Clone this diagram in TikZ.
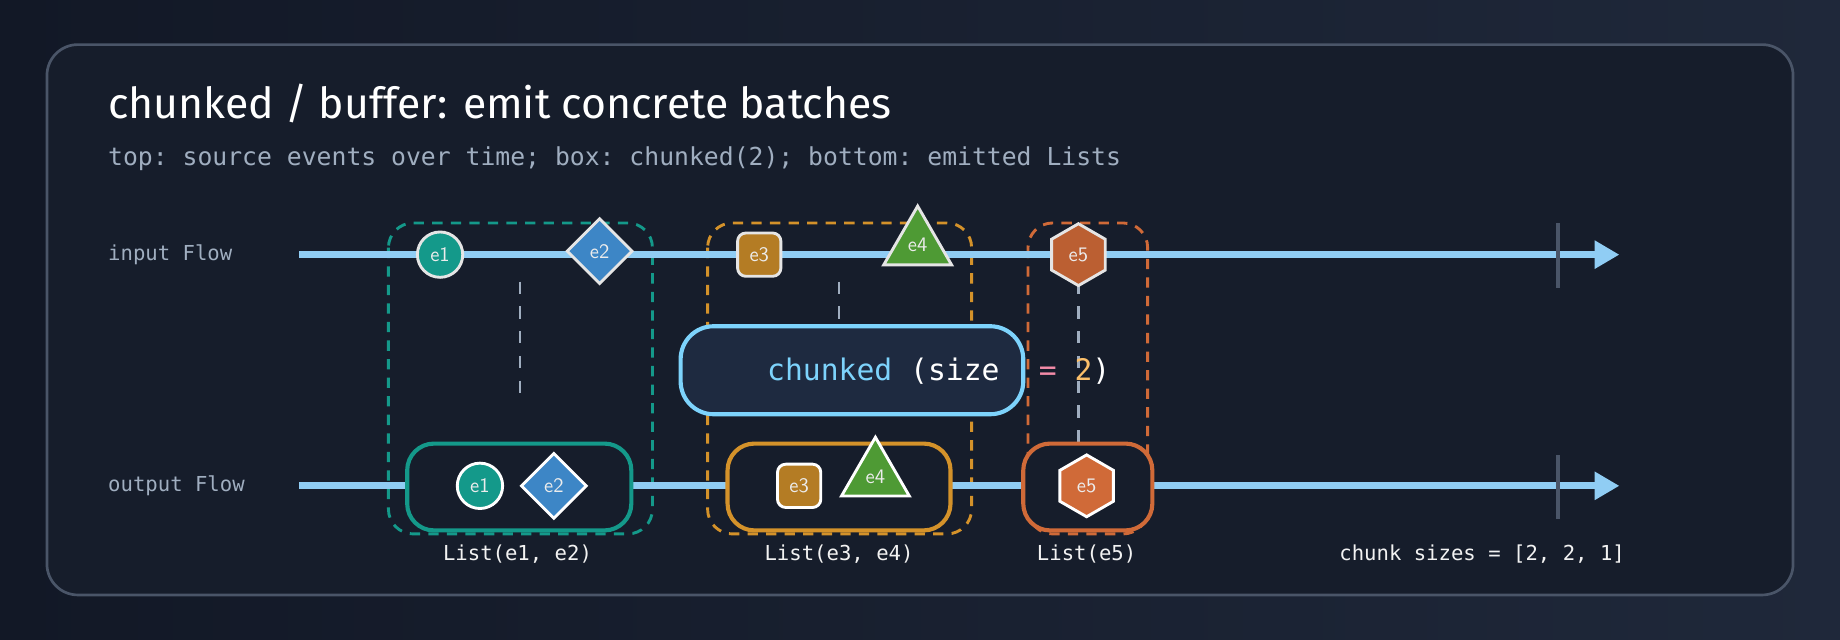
\documentclass[tikz,border=0pt]{standalone}
\usepackage{fontspec}
\setmainfont{Fira Sans}
\setmonofont{DejaVu Sans Mono}
\usetikzlibrary{positioning}
\usetikzlibrary{shapes.geometric}
\usetikzlibrary{arrows.meta}
\definecolor{bgA}{HTML}{121826}
\definecolor{bgB}{HTML}{1F283A}
\definecolor{panel}{HTML}{161D2B}
\definecolor{panelline}{HTML}{4A5568}
\definecolor{flow}{HTML}{90CDF4}
\definecolor{subtext}{HTML}{A0AEC0}
\definecolor{teal}{HTML}{14998A}
\definecolor{gold}{HTML}{D4922A}
\definecolor{rust}{HTML}{D06A38}
\definecolor{blueev}{HTML}{3D86C6}
\definecolor{greenev}{HTML}{4E9A34}
\definecolor{opline}{HTML}{7DD3FC}
\definecolor{opfill}{HTML}{1E2A40}
\definecolor{pinkish}{HTML}{F38BA8}
\definecolor{orangish}{HTML}{FBBF6A}
\tikzset{
    % the two flow lines
    flow line/.style={line width=3.4pt, flow, -{Triangle[length=12pt,width=13pt]}},
    end tick/.style={line width=2pt, panelline},
    % source events and emitted events
    event/.style={draw=#1, line width=1.4pt, text=white!85!gray,
        font=\sffamily, inner sep=0pt},
    ev circle/.style={event=#1, circle, minimum size=22pt},
    ev diamond/.style={event=#1, diamond, minimum size=32pt},
    ev square/.style={event=#1, rectangle, rounded corners=4pt, minimum size=21pt},
    ev triangle/.style={event=#1, regular polygon, regular polygon sides=3, minimum size=38pt},
    ev hexagon/.style={event=#1, regular polygon, regular polygon sides=6, shape border rotate=30, minimum size=30pt},
    % grouping of a chunk
    chunk group/.style={draw=#1, line width=1.4pt, dash pattern=on 5pt off 4pt, rounded corners=12pt},
    batch box/.style={draw=#1, line width=2pt, fill=panel, rounded corners=13pt},
    guide/.style={subtext, line width=1.3pt, dash pattern=on 6pt off 6pt},
    mono label/.style={font=\ttfamily, text=white!90!gray}
}
\begin{document}
\begin{tikzpicture}[x=0.02cm, y=-0.02cm]

% background and panel
\shade [left color=bgA, right color=bgB] (0,0) rectangle (1568,545);
\useasboundingbox (0,0) rectangle (1568,545);
\draw [panelline, line width=1.3pt, fill=panel, rounded corners=15pt]
    (40,38) rectangle (1528,507);

\node [anchor=west, text=white, font=\huge] (title) at (86,88)
    {chunked / buffer: emit concrete batches};
\node [anchor=west, text=subtext, font=\ttfamily\large] (subtitle) at (86,135)
    {top: source events over time; box: chunked(2); bottom: emitted Lists};

% chunk groups
\draw [chunk group=teal] (331,190) rectangle (556,455);
\draw [chunk group=gold] (603,190) rectangle (828,455);
\draw [chunk group=rust] (876,190) rectangle (978,455);

% input flow
\node [anchor=west, mono label, text=subtext] (in label) at (86,217) {input Flow};
\coordinate (in start) at (255,217);
\coordinate (in end) at (1380,217);
\draw [flow line] (in start) -- (in end);
\draw [end tick] (1328,190) -- (1328,245);

% output flow
\node [anchor=west, mono label, text=subtext] (out label) at (86,414) {output Flow};
\coordinate (out start) at (255,414);
\coordinate (out end) at (1380,414);
\draw [flow line] (out start) -- (out end);
\draw [end tick] (1328,388) -- (1328,442);

% guides
\draw [guide] (443,240) -- (443,345);
\draw [guide] (715,240) -- (715,278);
\draw [guide] (919,240) -- (919,395);

% source events
\node [ev circle=white!80!gray, fill=teal] (e1) at (375,217) {e1};
\node [ev diamond=white!80!gray, fill=blueev] (e2) at (511,214) {e2};
\node [ev square=white!80!gray, fill=gold!85!black] (e3) at (647,217) {e3};
\node [ev triangle=white!80!gray, fill=greenev] (e4) at (782,209) {\raisebox{-6pt}{e4}};
\node [ev hexagon=white!80!gray, fill=rust!90!black] (e5) at (919,217) {e5};

% operator
\path [draw=opline, line width=2pt, fill=opfill, rounded corners=16pt]
    (580,278) rectangle (872,353);
\node [anchor=east, font=\ttfamily\Large] (op text) at (858,316)
    {\textcolor{opline}{chunked} \textcolor{white}{(size}};
\node [anchor=west, font=\ttfamily\Large, right=12pt of op text.east] (op arg)
    {\textcolor{pinkish}{=} \textcolor{orangish}{2}\textcolor{white}{)}};

% emitted batches
\draw [batch box=teal] (347,378) rectangle (538,452);
\draw [batch box=gold] (620,378) rectangle (810,452);
\draw [batch box=rust] (872,378) rectangle (982,452);

\node [ev circle=white, fill=teal] (o1) at (409,414) {e1};
\node [ev diamond=white, fill=blueev] (o2) at (472,414) {e2};
\node [ev square=white, fill=gold!85!black] (o3) at (681,414) {e3};
\node [ev triangle=white, fill=greenev] (o4) at (746,406) {\raisebox{-6pt}{e4}};
\node [ev hexagon=white, fill=rust] (o5) at (926,414) {e5};

% labels
\node [mono label] (list a) at (441,472) {List(e1, e2)};
\node [mono label] (list b) at (715,472) {List(e3, e4)};
\node [mono label] (list c) at (926,472) {List(e5)};
\node [mono label] (sizes) at (1263,472) {chunk sizes = [2, 2, 1]};

\end{tikzpicture}
\end{document}
